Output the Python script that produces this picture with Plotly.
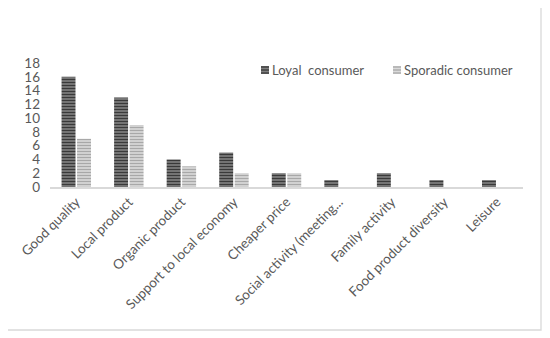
import plotly.graph_objects as go

categories = ["Good quality", "Local product", "Organic product", "Support to local economy",
              "Cheaper price", "Social activity (meeting...", "Family activity",
              "Food product diversity", "Leisure"]
loyal = [16, 13, 4, 5, 2, 1, 2, 1, 1]
sporadic = [7, 9, 3, 2, 2, 0, 0, 0, 0]
series_names = ["Loyal\u00a0 consumer", "Sporadic consumer"]
y_ticks = [0, 2, 4, 6, 8, 10, 12, 14, 16, 18]

# page body has an 8px default margin; work in window pixels and shift
OFF = 8
W, H = 550 - OFF, 338 - OFF
L, R, T, B = 50 - OFF, 550 - 523, 63 - OFF, 338 - 187
pw, ph = W - L - R, H - T - B

dark = dict(color="#7a7a7a", fg="#3a3a3a", bg="#808080")
light = dict(color="#cfcfcf", fg="#a8a8a8", bg="#dadada")
FONT = "Lato"

fig = go.Figure()
for vals, name, c in [(loyal, series_names[0], dark), (sporadic, series_names[1], light)]:
    fig.add_trace(go.Bar(
        x=categories, y=vals, name=name, showlegend=False,
        marker=dict(color=c["color"], line=dict(width=0),
                    pattern=dict(shape="-", fgcolor=c["fg"], bgcolor=c["bg"],
                                 size=3, solidity=0.45, fillmode="replace")),
    ))

def px(x):
    return (x - OFF - L) / pw

def py(y):
    return (H - B - (y - OFF)) / ph

# outer frame
fig.add_shape(type="rect", xref="paper", yref="paper",
              x0=px(6), x1=px(541), y0=py(330), y1=py(7),
              line=dict(color="#d9d9d9", width=1.3), fillcolor="rgba(0,0,0,0)")

# legend (manual, to match compact marker spacing)
legend_x = [261, 393]
legend_y = 70
for lx, name, c in zip(legend_x, series_names, [dark, light]):
    fig.add_shape(type="rect", xref="paper", yref="paper",
                  x0=px(lx), x1=px(lx + 8), y0=py(legend_y + 4), y1=py(legend_y - 4),
                  line=dict(width=0), fillcolor=c["bg"])
    for k in range(3):
        yy = legend_y - 3 + k * 3
        fig.add_shape(type="line", xref="paper", yref="paper",
                      x0=px(lx), x1=px(lx + 8), y0=py(yy), y1=py(yy),
                      line=dict(color=c["fg"], width=1.3))
    fig.add_annotation(xref="paper", yref="paper", x=px(lx + 9), y=py(legend_y),
                       xanchor="left", yanchor="middle", showarrow=False,
                       text=name, font=dict(family=FONT, size=13, color="#595959"))

fig.update_layout(
    width=W, height=H,
    margin=dict(l=L, r=R, t=T, b=B),
    paper_bgcolor="white", plot_bgcolor="white",
    barmode="group", bargap=0.41, bargroupgap=0.1,
    font=dict(family=FONT, color="#595959", size=13),
    showlegend=False,
    xaxis=dict(showline=True, linecolor="#d9d9d9", linewidth=1.5, ticks="",
               tickangle=-45, tickfont=dict(family=FONT, size=13.5, color="#595959"),
               showgrid=False, zeroline=False, automargin=False),
    yaxis=dict(range=[0, 18], tickvals=y_ticks, showgrid=False, zeroline=False,
               showline=False, ticks="", tickfont=dict(family=FONT, size=13.5, color="#595959"),
               ticklabelstandoff=9, automargin=False),
)

fig.write_html("out.html")
